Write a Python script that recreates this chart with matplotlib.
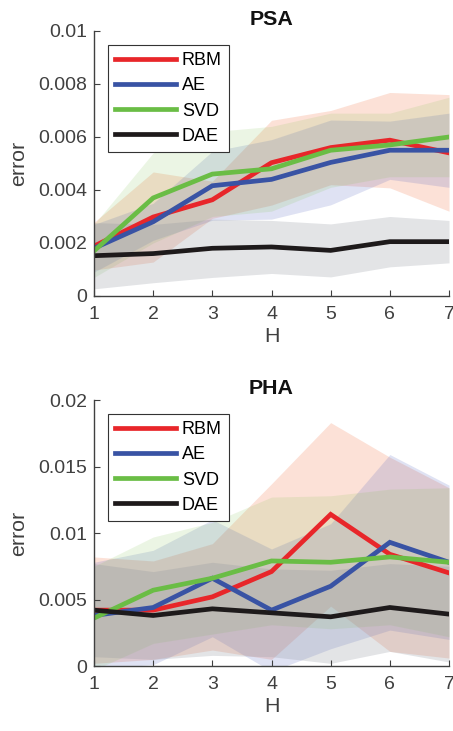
import matplotlib.pyplot as plt
import numpy as np
from matplotlib.ticker import FuncFormatter

plt.rcParams['font.family'] = ['Liberation Sans', 'DejaVu Sans']

H = [1, 2, 3, 4, 5, 6, 7]
methods = ["RBM", "AE", "SVD", "DAE"]

# PSA: mean error and spread per hidden size
psa_mean = {
    "RBM": [0.00188, 0.00298, 0.00363, 0.00503, 0.0056, 0.00588, 0.0054],
    "AE":  [0.0018, 0.0028, 0.00416, 0.0044, 0.00504, 0.0055, 0.0055],
    "SVD": [0.0017, 0.0037, 0.0046, 0.0048, 0.0055, 0.0057, 0.006],
    "DAE": [0.00152, 0.0016, 0.0018, 0.00185, 0.00172, 0.00205, 0.00205],
}
psa_std = {
    "RBM": [0.0009, 0.0017, 0.0007, 0.0016, 0.0014, 0.0018, 0.0022],
    "AE":  [0.0009, 0.0007, 0.0013, 0.0015, 0.0016, 0.0011, 0.0014],
    "SVD": [0.0010, 0.0017, 0.0016, 0.0016, 0.0014, 0.0012, 0.0015],
    "DAE": [0.00125, 0.0011, 0.0011, 0.001, 0.001, 0.00095, 0.0008],
}

# PHA
pha_mean = {
    "RBM": [0.0042, 0.0042, 0.0052, 0.0071, 0.0114, 0.0084, 0.007],
    "AE":  [0.0038, 0.0044, 0.0066, 0.0042, 0.006, 0.0093, 0.0078],
    "SVD": [0.0036, 0.0057, 0.0066, 0.0079, 0.0078, 0.0082, 0.0078],
    "DAE": [0.0042, 0.0038, 0.0043, 0.004, 0.0037, 0.0044, 0.0039],
}
pha_std = {
    "RBM": [0.004, 0.0037, 0.004, 0.0066, 0.0069, 0.0073, 0.0064],
    "AE":  [0.004, 0.0043, 0.0044, 0.0046, 0.0047, 0.0066, 0.0058],
    "SVD": [0.0039, 0.004, 0.0042, 0.0048, 0.005, 0.0051, 0.0056],
    "DAE": [0.0035, 0.0033, 0.0035, 0.0033, 0.0035, 0.0033, 0.0036],
}

line_colors = {"RBM": "#E8262A", "AE": "#3953A4", "SVD": "#6ABD45", "DAE": "#1E1A1B"}
fill_colors = {"RBM": "#F26B3A", "AE": "#5060C0", "SVD": "#7DC24A", "DAE": "#8A8F99"}
fill_alpha = {"RBM": 0.2, "AE": 0.18, "SVD": 0.15, "DAE": 0.24}

grey = "#404040"


def draw_panel(ax, means, stds, title, ymax, yticks):
    # shaded spread first so every line sits on top
    for m in methods:
        mu = np.array(means[m])
        sd = np.array(stds[m])
        ax.fill_between(H, mu - sd, mu + sd, color=fill_colors[m],
                        alpha=fill_alpha[m], linewidth=0)
    for m in methods:
        ax.plot(H, means[m], color=line_colors[m], lw=3.4, label=m,
                solid_joinstyle="miter")

    ax.set_xlim(1, 7)
    ax.set_ylim(0, ymax)
    ax.set_xticks(H)
    ax.set_yticks(yticks)
    ax.yaxis.set_major_formatter(FuncFormatter(lambda v, p: "%g" % v))
    ax.tick_params(direction="in", length=4, width=0.8, colors=grey,
                   labelsize=14, labelcolor=grey)
    ax.tick_params(axis="x", pad=7)
    ax.tick_params(axis="y", pad=5)
    for s in ["top", "right"]:
        ax.spines[s].set_visible(False)
    for s in ["left", "bottom"]:
        ax.spines[s].set_color(grey)
        ax.spines[s].set_linewidth(1.0)

    ax.set_xlabel("H", fontsize=15.4, color=grey, labelpad=3)
    ax.set_ylabel("error", fontsize=15.4, color=grey, labelpad=7)
    ax.set_title(title, fontsize=15.4, fontweight="bold", color="#111111", pad=4)

    leg = ax.legend(loc="upper left", bbox_to_anchor=(0.039, 0.947),
                    borderaxespad=0, fontsize=13, handlelength=3.4,
                    handletextpad=0.3, labelspacing=0.45, borderpad=0.4,
                    fancybox=False, framealpha=1, edgecolor="#333333")
    leg.get_frame().set_linewidth(0.8)


fig = plt.figure(figsize=(4.53, 7.31), dpi=100)
ax1 = fig.add_axes([0.2075, 0.5951, 0.7837, 0.3625])
ax2 = fig.add_axes([0.2075, 0.0889, 0.7837, 0.3639])

draw_panel(ax1, psa_mean, psa_std, "PSA", 0.01,
           [0, 0.002, 0.004, 0.006, 0.008, 0.01])
draw_panel(ax2, pha_mean, pha_std, "PHA", 0.02,
           [0, 0.005, 0.01, 0.015, 0.02])

fig.savefig("out.png", dpi=100)
